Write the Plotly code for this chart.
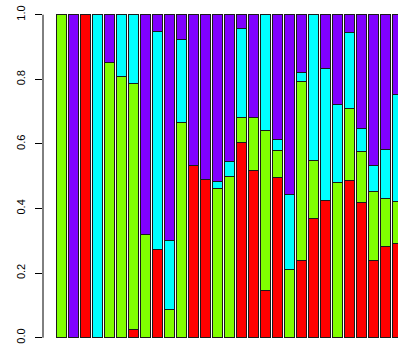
import plotly.graph_objects as go

# segment heights per bar, stacked bottom to top: red, green, cyan, purple
red    = [0, 0, 1, 0, 0, 0, 0.026, 0, 0.272, 0, 0, 0.532, 0.491, 0, 0, 0.604, 0.519, 0.146,
          0.497, 0, 0.24, 0.368, 0.425, 0, 0.488, 0.42, 0.24, 0.282, 0.291]
green  = [1, 0, 0, 0, 0.851, 0.81, 0.762, 0.32, 0, 0.088, 0.666, 0, 0, 0.462, 0.498, 0.077, 0.162, 0.494,
          0.082, 0.212, 0.554, 0.181, 0, 0.48, 0.222, 0.156, 0.213, 0.15, 0.132]
cyan   = [0, 0, 0, 1, 0, 0.19, 0.212, 0, 0.675, 0.214, 0.256, 0, 0, 0.023, 0.047, 0.277, 0, 0.36,
          0.035, 0.23, 0.028, 0.451, 0.407, 0.242, 0.234, 0.071, 0.08, 0.151, 0.33]
purple = [0, 1, 0, 0, 0.149, 0, 0, 0.68, 0.053, 0.698, 0.078, 0.468, 0.509, 0.515, 0.455, 0.042, 0.319, 0,
          0.386, 0.558, 0.178, 0, 0.168, 0.278, 0.056, 0.353, 0.467, 0.417, 0.247]

series = [("red", red, "#FF0000"), ("green", green, "#80FF00"),
          ("cyan", cyan, "#00FFFF"), ("purple", purple, "#8000FF")]

tick_vals = [0.0, 0.2, 0.4, 0.6, 0.8, 1.0]
tick_text = ["0.0", "0.2", "0.4", "0.6", "0.8", "1.0"]

n = len(red)
xpos = [0.7 + 1.2 * i for i in range(n)]

fig = go.Figure()
for name, vals, col in series:
    fig.add_trace(go.Bar(x=xpos, y=vals, width=1.0, name=name,
                         marker=dict(color=col, line=dict(color="#1a1a1a", width=1))))

fig.update_layout(
    barmode="stack",
    width=398, height=349,
    margin=dict(l=43, r=0, t=0, b=0),
    paper_bgcolor="white", plot_bgcolor="white",
    showlegend=False,
    font=dict(family="Liberation Sans, Arial, sans-serif", size=11, color="black"),
    xaxis=dict(range=[-1.17, 34.33], visible=False, showgrid=False, zeroline=False),
    yaxis=dict(range=[-0.035, 1.0455], tickvals=tick_vals, ticktext=tick_text,
               tickangle=-90, ticks="outside", ticklen=7, tickwidth=1, tickcolor="black",
               showgrid=False, zeroline=False, showline=False, ticklabelstandoff=6,
               ticklabeloverflow="allow"),
    shapes=[dict(type="line", xref="paper", yref="y", x0=0, x1=0, y0=0, y1=1,
                 line=dict(color="black", width=1))],
)

fig.write_html(
    "out.html",
    config={"displayModeBar": False},
    post_script="document.body.style.margin='0';document.body.style.overflow='hidden';",
)
